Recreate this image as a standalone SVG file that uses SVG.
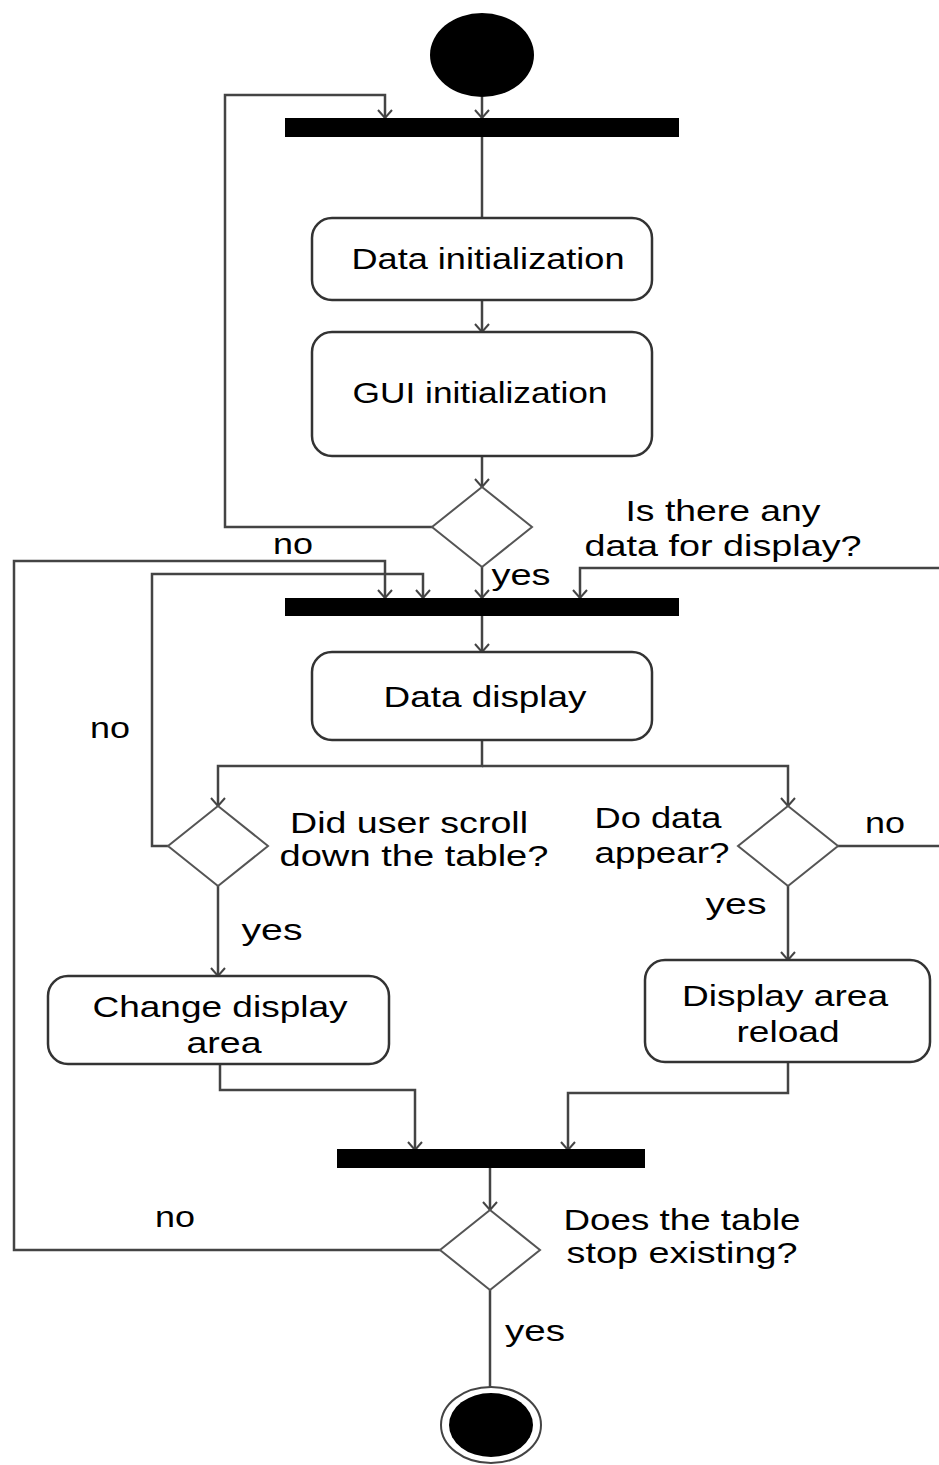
<svg xmlns="http://www.w3.org/2000/svg" width="939" height="1465" viewBox="0 0 939 1465">
<style>
.box{fill:#fff;stroke:#333;stroke-width:2.5}
.dia{fill:#fff;stroke:#555;stroke-width:2}
.bar{fill:#000}
.ln{fill:none;stroke:#444;stroke-width:2.5}
.t{font-family:"Liberation Sans",Arial,sans-serif;font-size:30px;fill:#000;text-anchor:middle;dominant-baseline:central}
</style>
<defs>
<marker id="arr" markerUnits="userSpaceOnUse" markerWidth="20" markerHeight="20" refX="10" refY="10" orient="auto">
<path d="M2,3 L10,10 L2,17" fill="none" stroke="#444" stroke-width="2"/>
</marker>
</defs>
<rect width="939" height="1465" fill="#fff"/>
<g id="connectors">
<path class="ln" d="M482,97 V118" marker-end="url(#arr)"/>
<path class="ln" d="M432,527 H225 V95 H385 V118" marker-end="url(#arr)"/>
<path class="ln" d="M482,137 V218"/>
<path class="ln" d="M482,300 V332" marker-end="url(#arr)"/>
<path class="ln" d="M482,456 V487" marker-end="url(#arr)"/>
<path class="ln" d="M482,567 V598" marker-end="url(#arr)"/>
<path class="ln" d="M939,568 H580 V598" marker-end="url(#arr)"/>
<path class="ln" d="M440,1250 H14 V561 H385 V598" marker-end="url(#arr)"/>
<path class="ln" d="M168,846 H152 V574 H423 V598" marker-end="url(#arr)"/>
<path class="ln" d="M482,616 V652" marker-end="url(#arr)"/>
<path class="ln" d="M482,740 V766 H218 V806" marker-end="url(#arr)"/>
<path class="ln" d="M482,766 H788 V806" marker-end="url(#arr)"/>
<path class="ln" d="M218,886 V976" marker-end="url(#arr)"/>
<path class="ln" d="M788,886 V960" marker-end="url(#arr)"/>
<path class="ln" d="M838,846 H939"/>
<path class="ln" d="M220,1064 V1090 H415 V1150" marker-end="url(#arr)"/>
<path class="ln" d="M788,1062 V1093 H568 V1150" marker-end="url(#arr)"/>
<path class="ln" d="M490,1168 V1210" marker-end="url(#arr)"/>
<path class="ln" d="M490,1290 V1387"/>
</g>
<g id="start"><ellipse cx="482" cy="55" rx="52" ry="42" fill="#000"/></g>
<g id="bar1"><rect class="bar" x="285" y="118" width="394" height="19"/></g>
<g id="data_init"><rect class="box" x="312" y="218" width="340" height="82" rx="20"/>
<text class="t" x="488" y="258" textLength="273" lengthAdjust="spacingAndGlyphs">Data initialization</text></g>
<g id="gui_init"><rect class="box" x="312" y="332" width="340" height="124" rx="20"/>
<text class="t" x="480" y="392" textLength="255" lengthAdjust="spacingAndGlyphs">GUI initialization</text></g>
<g id="dec1"><polygon class="dia" points="482,487 532,527 482,567 432,527"/>
<text class="t" x="723" y="510" textLength="195" lengthAdjust="spacingAndGlyphs">Is there any</text>
<text class="t" x="723" y="545" textLength="277" lengthAdjust="spacingAndGlyphs">data for display?</text>
<text class="t" x="521" y="574" textLength="59" lengthAdjust="spacingAndGlyphs">yes</text>
<text class="t" x="293" y="543" textLength="40" lengthAdjust="spacingAndGlyphs">no</text></g>
<g id="bar2"><rect class="bar" x="285" y="598" width="394" height="18"/></g>
<g id="data_display"><rect class="box" x="312" y="652" width="340" height="88" rx="20"/>
<text class="t" x="485" y="696" textLength="203" lengthAdjust="spacingAndGlyphs">Data display</text></g>
<g id="dec_scroll"><polygon class="dia" points="218,806 268,846 218,886 168,846"/>
<text class="t" x="409" y="822" textLength="238" lengthAdjust="spacingAndGlyphs">Did user scroll</text>
<text class="t" x="414" y="855" textLength="269" lengthAdjust="spacingAndGlyphs">down the table?</text>
<text class="t" x="110" y="727" textLength="40" lengthAdjust="spacingAndGlyphs">no</text>
<text class="t" x="272" y="929" textLength="61" lengthAdjust="spacingAndGlyphs">yes</text></g>
<g id="dec_appear"><polygon class="dia" points="788,806 838,846 788,886 738,846"/>
<text class="t" x="658" y="817" textLength="127" lengthAdjust="spacingAndGlyphs">Do data</text>
<text class="t" x="662" y="852" textLength="135" lengthAdjust="spacingAndGlyphs">appear?</text>
<text class="t" x="885" y="822" textLength="40" lengthAdjust="spacingAndGlyphs">no</text>
<text class="t" x="736" y="903" textLength="61" lengthAdjust="spacingAndGlyphs">yes</text></g>
<g id="change_area"><rect class="box" x="48" y="976" width="341" height="88" rx="20"/>
<text class="t" x="220" y="1006" textLength="255" lengthAdjust="spacingAndGlyphs">Change display</text>
<text class="t" x="224" y="1042" textLength="75" lengthAdjust="spacingAndGlyphs">area</text></g>
<g id="reload"><rect class="box" x="645" y="960" width="285" height="102" rx="20"/>
<text class="t" x="785" y="995" textLength="206" lengthAdjust="spacingAndGlyphs">Display area</text>
<text class="t" x="788" y="1031" textLength="103" lengthAdjust="spacingAndGlyphs">reload</text></g>
<g id="bar3"><rect class="bar" x="337" y="1149" width="308" height="19"/></g>
<g id="dec_exist"><polygon class="dia" points="490,1210 540,1250 490,1290 440,1250"/>
<text class="t" x="682" y="1219" textLength="237" lengthAdjust="spacingAndGlyphs">Does the table</text>
<text class="t" x="682" y="1252" textLength="231" lengthAdjust="spacingAndGlyphs">stop existing?</text>
<text class="t" x="175" y="1216" textLength="40" lengthAdjust="spacingAndGlyphs">no</text>
<text class="t" x="535" y="1330" textLength="60" lengthAdjust="spacingAndGlyphs">yes</text></g>
<g id="end"><ellipse cx="491" cy="1425" rx="50" ry="38" fill="#fff" stroke="#444" stroke-width="2"/>
<ellipse cx="491" cy="1425" rx="42" ry="32" fill="#000"/></g>
</svg>
